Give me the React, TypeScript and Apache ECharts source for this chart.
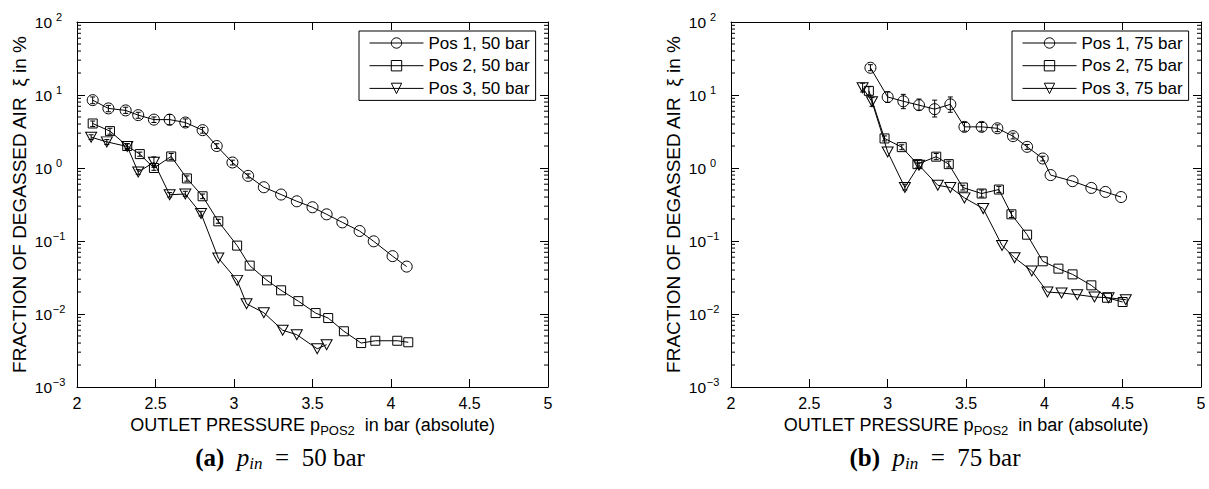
import React, { useEffect, useRef } from "react";
import * as echarts from "echarts";

// ---------- data ----------
const L1_X = [2.1, 2.2, 2.31, 2.39, 2.49, 2.59, 2.69, 2.8, 2.89, 2.99, 3.09, 3.19, 3.3, 3.4, 3.5, 3.59, 3.69, 3.8, 3.89, 4.01, 4.1];
const L1_Y = [8.5, 6.55, 6.15, 5.3, 4.6, 4.6, 4.2, 3.3, 2.0, 1.19, 0.78, 0.545, 0.433, 0.35, 0.29, 0.232, 0.18, 0.137, 0.099, 0.062, 0.0446];

const L2_X = [2.1, 2.21, 2.32, 2.4, 2.49, 2.6, 2.7, 2.8, 2.9, 3.02, 3.1, 3.21, 3.3, 3.41, 3.52, 3.6, 3.7, 3.81, 3.9, 4.04, 4.11];
const L2_Y = [4.07, 3.2, 2.0, 1.55, 1.0, 1.44, 0.72, 0.41, 0.186, 0.0865, 0.046, 0.0289, 0.0211, 0.015, 0.0103, 0.0088, 0.0058, 0.004, 0.0043, 0.0043, 0.0041];

const L3_X = [2.09, 2.19, 2.32, 2.39, 2.49, 2.59, 2.69, 2.79, 2.9, 3.02, 3.08, 3.19, 3.31, 3.4, 3.53, 3.59];
const L3_Y = [2.64, 2.28, 1.97, 0.88, 1.2, 0.43, 0.44, 0.238, 0.0585, 0.0289, 0.0138, 0.0104, 0.006, 0.0052, 0.00334, 0.0038];

const R1_X = [2.89, 3.0, 3.1, 3.2, 3.3, 3.4, 3.49, 3.6, 3.7, 3.8, 3.89, 3.99, 4.04, 4.18, 4.3, 4.39, 4.49];
const R1_Y = [23.6, 9.4, 8.2, 7.26, 6.4, 7.45, 3.66, 3.66, 3.5, 2.73, 1.95, 1.35, 0.8, 0.66, 0.533, 0.47, 0.4];

const R2_X = [2.88, 2.98, 3.09, 3.19, 3.31, 3.39, 3.48, 3.6, 3.71, 3.79, 3.89, 3.99, 4.09, 4.18, 4.3, 4.4, 4.5];
const R2_Y = [11.4, 2.54, 1.93, 1.13, 1.43, 1.13, 0.54, 0.447, 0.507, 0.232, 0.122, 0.0527, 0.0418, 0.0349, 0.0247, 0.0167, 0.0146];

const R3_X = [2.84, 2.9, 3.0, 3.11, 3.2, 3.32, 3.4, 3.49, 3.61, 3.73, 3.81, 3.92, 4.02, 4.11, 4.21, 4.32, 4.41, 4.52];
const R3_Y = [12.6, 8.07, 1.66, 0.54, 1.09, 0.58, 0.54, 0.39, 0.278, 0.087, 0.059, 0.0388, 0.02, 0.0194, 0.0184, 0.0171, 0.0167, 0.0157];

// error bars: [x, low, high]
const L1_ERR = [[2.1, 7.6, 9.4], [2.2, 5.9, 7.2], [2.31, 5.6, 6.8], [2.39, 4.8, 5.8], [2.49, 4.2, 5.0], [2.59, 3.9, 5.4], [2.69, 3.7, 4.7], [2.8, 3.0, 3.6], [2.89, 1.85, 2.15], [2.99, 1.1, 1.28], [3.09, 0.73, 0.83]];
const L2_ERR = [[2.1, 3.7, 4.4], [2.21, 2.9, 3.5], [2.32, 1.85, 2.15], [2.4, 1.45, 1.65], [2.49, 0.93, 1.08], [2.6, 1.3, 1.58], [2.7, 0.66, 0.78], [2.8, 0.38, 0.44], [2.9, 0.175, 0.198]];
const L3_ERR = [[2.09, 2.45, 2.85], [2.19, 2.1, 2.45], [2.32, 1.8, 2.15], [2.39, 0.82, 0.95], [2.49, 1.02, 1.42], [2.59, 0.4, 0.46], [2.69, 0.41, 0.48], [2.79, 0.22, 0.255]];
const R1_ERR = [[2.89, 21.5, 26.0], [3.0, 7.9, 11.0], [3.1, 6.5, 10.2], [3.2, 6.2, 8.8], [3.3, 5.0, 8.5], [3.4, 5.8, 9.4], [3.49, 3.2, 4.2], [3.6, 3.2, 4.2], [3.7, 3.15, 3.9], [3.8, 2.5, 3.0], [3.89, 1.8, 2.1], [3.99, 1.25, 1.45]];
const R2_ERR = [[2.88, 10.0, 13.0], [2.98, 2.35, 2.75], [3.09, 1.78, 2.08], [3.19, 1.0, 1.26], [3.31, 1.3, 1.58], [3.39, 1.03, 1.24], [3.48, 0.5, 0.58], [3.6, 0.4, 0.5], [3.71, 0.46, 0.56], [3.79, 0.21, 0.255]];
const R3_ERR = [[2.84, 11.0, 14.5], [2.9, 7.0, 9.2], [3.11, 0.5, 0.6], [3.2, 1.0, 1.18]];

const X_TICK_INTERVAL = 0.5;
const X_MIN = 2;
const X_MAX = 5;
const Y_MIN = 0.001;
const Y_MAX = 100;
const DECADES = [0.001, 0.01, 0.1, 1, 10];
const MINOR_FACTORS = [2, 3, 4, 5, 6, 7, 8, 9];

const NAMES_A = ["Pos 1, 50 bar", "Pos 2, 50 bar", "Pos 3, 50 bar"];
const NAMES_B = ["Pos 1, 75 bar", "Pos 2, 75 bar", "Pos 3, 75 bar"];

const SANS = "'Liberation Sans', Arial, Helvetica, sans-serif";
const SERIF = "'Liberation Serif', 'Times New Roman', serif";
const TRI_DOWN = "path://M0,0L20,0L10,17.3Z";

function pairs(xs: number[], ys: number[]) {
  return xs.map((x, i) => [x, ys[i]]);
}

function lineSeries(name: string, xs: number[], ys: number[], symbol: string, size: number | number[], g: number) {
  return {
    type: "line",
    name,
    xAxisIndex: g,
    yAxisIndex: g,
    data: pairs(xs, ys),
    symbol,
    symbolSize: size,
    showAllSymbol: true,
    lineStyle: { color: "#000", width: 1 },
    itemStyle: { color: "rgba(255,255,255,0)", borderColor: "#000", borderWidth: 1 },
    emphasis: { disabled: true },
    silent: true,
    z: 3,
  };
}

function errSeries(data: number[][], g: number) {
  return {
    type: "custom",
    xAxisIndex: g,
    yAxisIndex: g,
    data,
    encode: { x: 0, y: [1, 2] },
    silent: true,
    z: 2,
    renderItem: (params: any, api: any) => {
      const x = api.value(0);
      const p1 = api.coord([x, api.value(2)]);
      const p2 = api.coord([x, api.value(1)]);
      const w = 2.5;
      const st = { stroke: "#000", lineWidth: 1 };
      return {
        type: "group",
        children: [
          { type: "line", shape: { x1: p1[0], y1: p1[1], x2: p2[0], y2: p2[1] }, style: st },
          { type: "line", shape: { x1: p1[0] - w, y1: p1[1], x2: p1[0] + w, y2: p1[1] }, style: st },
          { type: "line", shape: { x1: p2[0] - w, y1: p2[1], x2: p2[0] + w, y2: p2[1] }, style: st },
        ],
      };
    },
  };
}

function minorTickSeries(g: number) {
  const data: number[][] = [];
  DECADES.forEach((d) => MINOR_FACTORS.forEach((k) => data.push([X_MIN, d * k])));
  return {
    type: "custom",
    xAxisIndex: g,
    yAxisIndex: g,
    data,
    encode: { x: 0, y: 1 },
    silent: true,
    z: 1,
    renderItem: (params: any, api: any) => {
      const v = api.value(1);
      const a = api.coord([X_MIN, v]);
      const b = api.coord([X_MAX, v]);
      const st = { stroke: "#000", lineWidth: 1 };
      return {
        type: "group",
        children: [
          { type: "line", shape: { x1: a[0], y1: a[1], x2: a[0] + 4, y2: a[1] }, style: st },
          { type: "line", shape: { x1: b[0], y1: b[1], x2: b[0] - 4, y2: b[1] }, style: st },
        ],
      };
    },
  };
}

const axisLine = { show: true, onZero: false, lineStyle: { color: "#000", width: 1 } };
const axisTick = { show: true, inside: true, length: 8, lineStyle: { color: "#000", width: 1 } };

function bottomX(g: number) {
  return {
    type: "value",
    gridIndex: g,
    min: X_MIN,
    max: X_MAX,
    interval: X_TICK_INTERVAL,
    position: "bottom",
    axisLine,
    axisTick,
    splitLine: { show: false },
    axisLabel: { color: "#000", fontSize: 16, fontFamily: SANS, margin: 8 },
    name: "{n|OUTLET PRESSURE p}{s|POS2}{n|  in bar (absolute)}",
    nameLocation: "middle",
    nameGap: 22,
    nameTextStyle: {
      rich: {
        n: { fontSize: 18, fontFamily: SANS, color: "#000" },
        s: { fontSize: 13, fontFamily: SANS, color: "#000", padding: [11, 0, 0, 0] },
      },
    },
  };
}

function topX(g: number) {
  return {
    type: "value",
    gridIndex: g,
    min: X_MIN,
    max: X_MAX,
    interval: X_TICK_INTERVAL,
    position: "top",
    axisLine,
    axisTick,
    splitLine: { show: false },
    axisLabel: { show: false },
  };
}

function leftY(g: number) {
  return {
    type: "log",
    logBase: 10,
    gridIndex: g,
    min: Y_MIN,
    max: Y_MAX,
    position: "left",
    axisLine,
    axisTick,
    splitLine: { show: false },
    axisLabel: {
      color: "#000",
      margin: 12,
      showMinLabel: true,
      showMaxLabel: true,
      formatter: (v: number) => {
        const e = Math.round(Math.log10(v));
        return "{b|10}{s|" + (e < 0 ? "\u2212" + -e : String(e)) + "}";
      },
      rich: {
        b: { fontSize: 15.5, fontFamily: SANS, color: "#000" },
        s: { fontSize: 11, fontFamily: SANS, color: "#000", padding: [0, 0, 10, 1], width: 12, align: "left" },
      },
    },
    name: "FRACTION OF DEGASSED AIR  \u03BE in %",
    nameLocation: "middle",
    nameGap: 48,
    nameTextStyle: { fontSize: 19, fontFamily: SANS, color: "#000" },
  };
}

function rightY(g: number) {
  return {
    type: "log",
    logBase: 10,
    gridIndex: g,
    min: Y_MIN,
    max: Y_MAX,
    position: "right",
    axisLine,
    axisTick,
    splitLine: { show: false },
    axisLabel: { show: false },
  };
}

function legendFor(names: string[], left: number) {
  return {
    data: names,
    orient: "vertical",
    left,
    top: 31,
    itemWidth: 54,
    itemHeight: 13,
    itemGap: 4.7,
    padding: [3, 6, 3, 10],
    borderColor: "#000",
    borderWidth: 1,
    backgroundColor: "#fff",
    selectedMode: false,
    lineStyle: { width: 1, color: "#000" },
    itemStyle: { borderWidth: 1, borderColor: "#000", color: "rgba(255,255,255,0)" },
    textStyle: { fontSize: 17, fontFamily: SANS, color: "#000", lineHeight: 18 },
  };
}

function caption(label: string, value: string, cx: number) {
  return {
    type: "text",
    x: cx,
    y: 457,
    style: {
      text: "{a|(" + label + ")}{t|  }{i|p}{s|in}{t|  =  " + value + " bar}",
      align: "center",
      verticalAlign: "middle",
      fill: "#000",
      rich: {
        a: { fontSize: 25, fontFamily: SERIF, fontWeight: "bold", fill: "#000" },
        i: { fontSize: 25, fontFamily: SERIF, fontStyle: "italic", fill: "#000" },
        s: { fontSize: 17, fontFamily: SERIF, fontStyle: "italic", fill: "#000", padding: [12, 0, 0, 0] },
        t: { fontSize: 25, fontFamily: SERIF, fill: "#000" },
      },
    },
  };
}

export default function App() {
  const ref = useRef<HTMLDivElement>(null);
  useEffect(() => {
    if (!ref.current) return;
    const chart = echarts.init(ref.current, undefined, { renderer: "svg" });
    const option: any = {
      animation: false,
      backgroundColor: "#fff",
      grid: [
        { left: 77, top: 22, width: 471, height: 365 },
        { left: 731, top: 22, width: 470, height: 365 },
      ],
      xAxis: [bottomX(0), bottomX(1), topX(0), topX(1)],
      yAxis: [leftY(0), leftY(1), rightY(0), rightY(1)],
      legend: [legendFor(NAMES_A, 359), legendFor(NAMES_B, 1012)],
      series: [
        minorTickSeries(0),
        minorTickSeries(1),
        errSeries(L1_ERR, 0),
        errSeries(L2_ERR, 0),
        errSeries(L3_ERR, 0),
        errSeries(R1_ERR, 1),
        errSeries(R2_ERR, 1),
        errSeries(R3_ERR, 1),
        lineSeries(NAMES_A[0], L1_X, L1_Y, "circle", 11, 0),
        lineSeries(NAMES_A[1], L2_X, L2_Y, "rect", 9, 0),
        lineSeries(NAMES_A[2], L3_X, L3_Y, TRI_DOWN, [11, 10], 0),
        lineSeries(NAMES_B[0], R1_X, R1_Y, "circle", 11, 1),
        lineSeries(NAMES_B[1], R2_X, R2_Y, "rect", 9, 1),
        lineSeries(NAMES_B[2], R3_X, R3_Y, TRI_DOWN, [11, 10], 1),
      ],
      graphic: [caption("a", "50", 280), caption("b", "75", 935)],
    };
    chart.setOption(option);
    return () => chart.dispose();
  }, []);
  return (
    <div
      ref={ref}
      style={{ position: "absolute", left: 0, top: 0, width: 1209, height: 489, background: "#fff" }}
    />
  );
}
